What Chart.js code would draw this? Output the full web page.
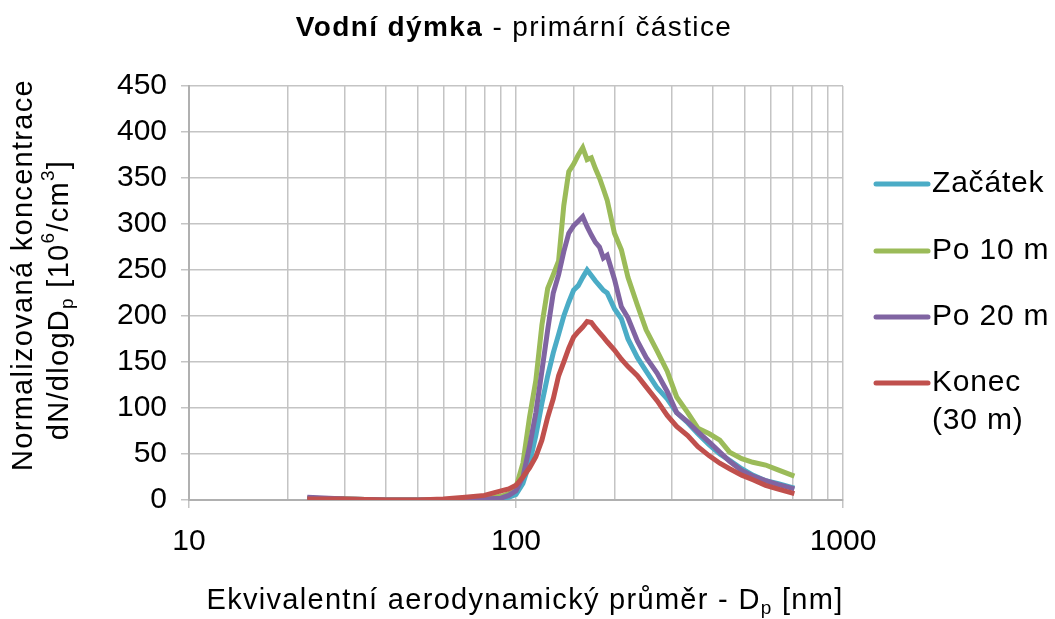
<!DOCTYPE html>
<html>
<head>
<meta charset="utf-8">
<script src="https://cdn.jsdelivr.net/npm/chart.js"></script>
<style>
  html, body { margin: 0; padding: 0; background: #fff; }
  #wrap { width: 1055px; height: 619px; position: relative; }
</style>
</head>
<body>
<div id="wrap"><canvas id="c"></canvas></div>
<script>
// particle diameters [nm]
const diameters = [23, 30, 40, 50, 60, 70, 80, 90, 95, 100, 105, 110, 115, 120, 125, 130, 135, 140,
    145, 150, 155, 160, 165, 170, 175, 180, 185, 190, 200, 210, 220, 235, 250, 270, 290, 310,
    335, 360, 390, 420, 450, 490, 530, 580, 630, 710];

const zacatek = [2, 1, 0, 0, 0, 0, 1, 2, 3, 6, 18, 40, 70, 105, 135, 160, 180, 200,
    215, 228, 233, 242, 250, 244, 238, 233, 228, 225, 208, 197, 175, 155, 140, 122, 110, 95,
    84, 72, 60, 50, 43, 34, 27, 21, 18, 13];
const po10 = [2, 1, 0, 0, 0, 1, 2, 4, 7, 14, 40, 90, 130, 190, 230, 245, 260, 320,
    357, 365, 375, 383, 370, 372, 360, 350, 338, 326, 290, 272, 242, 212, 185, 162, 140, 112,
    95, 78, 72, 65, 52, 45, 41, 38, 33, 26];
const po20 = [3, 1, 0, 0, 0, 0, 1, 2, 5, 10, 25, 58, 95, 140, 185, 225, 245, 270,
    290, 298, 303, 308, 297, 288, 280, 275, 263, 266, 240, 210, 198, 173, 155, 138, 118, 95,
    85, 74, 63, 52, 42, 32, 26, 21, 17, 12];
const konec = [1, 1, 0, 0, 1, 3, 5, 10, 12, 16, 25, 35, 47, 65, 90, 110, 135, 150,
    165, 177, 183, 188, 194, 193, 187, 182, 177, 172, 163, 153, 145, 135, 123, 108, 92, 80,
    70, 58, 48, 40, 34, 27, 22, 16, 12, 7];

const seriesNames = ['Začátek', 'Po 10 m', 'Po 20 m', 'Konec\n(30 m)'];
const seriesValues = [zacatek, po10, po20, konec];
const seriesColors = ['#4BACC6', '#9BBB59', '#8064A2', '#C0504D'];
const xTickLabels = [10, 100, 1000];

const FONT = "'Liberation Sans', Arial, sans-serif";

// draws text made of runs (bold / sub / sup), centred on x
function drawRich(ctx, runs, x, y, size, spacing) {
    ctx.letterSpacing = (spacing || 0) + 'px';
    const fontFor = r => (r.bold ? 'bold ' : '') + Math.round(r.sub || r.sup ? size * 0.65 : size) + 'px ' + FONT;
    let total = 0;
    runs.forEach(r => { ctx.font = fontFor(r); total += ctx.measureText(r.t).width; });
    let cx = x - total / 2;
    runs.forEach(r => {
        ctx.font = fontFor(r);
        let dy = 0;
        if (r.sub) dy = size * 0.28;
        if (r.sup) dy = -size * 0.38;
        ctx.fillText(r.t, cx, y + dy);
        cx += ctx.measureText(r.t).width;
    });
    ctx.letterSpacing = '0px';
}

const textPlugin = {
    id: 'texts',
    afterDraw(chart) {
        const ctx = chart.ctx;
        ctx.save();
        ctx.fillStyle = '#000';
        ctx.textAlign = 'left';
        ctx.textBaseline = 'middle';

        // title
        drawRich(ctx, [{ t: 'Vodní dýmka', bold: true }, { t: ' - primární částice' }], 514, 28, 28, 1.4);

        // x title
        drawRich(ctx, [{ t: 'Ekvivalentní aerodynamický průměr - D' }, { t: 'p', sub: true }, { t: ' [nm]' }], 525, 601, 29, 1.3);

        // y title (two lines, rotated)
        ctx.save();
        ctx.translate(24, 275);
        ctx.rotate(-Math.PI / 2);
        drawRich(ctx, [{ t: 'Normalizovaná koncentrace' }], 0, 0, 29, 1.3);
        ctx.restore();
        ctx.save();
        ctx.translate(60, 300);
        ctx.rotate(-Math.PI / 2);
        drawRich(ctx, [{ t: 'dN/dlogD' }, { t: 'p', sub: true }, { t: ' [10' }, { t: '6', sup: true },
            { t: '/cm' }, { t: '3', sup: true }, { t: ']' }], 0, 0, 29, 1.3);
        ctx.restore();

        // legend
        const rowsY = [184, 251, 317, 383];
        ctx.font = '30px ' + FONT;
        ctx.letterSpacing = '0.8px';
        seriesNames.forEach((name, i) => {
            const y = rowsY[i];
            ctx.strokeStyle = seriesColors[i];
            ctx.lineWidth = 5;
            ctx.lineCap = 'round';
            ctx.beginPath();
            ctx.moveTo(876, y);
            ctx.lineTo(928, y);
            ctx.stroke();
            name.split('\n').forEach((line, j) => {
                ctx.fillText(line, 932, y + j * 38);
            });
        });
        ctx.letterSpacing = '0px';
        ctx.restore();
    }
};

const datasets = seriesNames.map((name, i) => ({
    label: name,
    data: diameters.map((d, k) => ({ x: d, y: seriesValues[i][k] })),
    borderColor: seriesColors[i],
    borderWidth: 5,
    pointRadius: 0,
    tension: 0,
    fill: false,
    order: 3 - i    // red on top
}));

const gridGray = '#c4c4c4';

new Chart(document.getElementById('c'), {
    type: 'line',
    data: { datasets },
    options: {
        responsive: true,
        maintainAspectRatio: false,
        animation: false,
        layout: { padding: { left: 0, top: 86, right: 212, bottom: 0 } },
        plugins: { legend: { display: false }, title: { display: false }, tooltip: { enabled: false } },
        scales: {
            x: {
                type: 'logarithmic',
                min: 10,
                max: 1000,
                afterFit: s => { s.height = 119; },
                grid: {
                    color: gridGray,
                    lineWidth: 1.5,
                    tickLength: 8,
                    tickColor: c => (c.tick && xTickLabels.includes(c.tick.value)) ? gridGray : 'rgba(0,0,0,0)'
                },
                border: { color: '#b0b0b0', width: 2 },
                ticks: {
                    autoSkip: false,
                    maxRotation: 0,
                    padding: 16,
                    color: '#000',
                    font: { family: FONT, size: 30 },
                    callback: v => xTickLabels.includes(v) ? String(v) : ''
                }
            },
            y: {
                min: 0,
                max: 450,
                afterFit: s => { s.width = 189; },
                grid: { color: gridGray, lineWidth: 1.5, tickLength: 8 },
                border: { color: '#b0b0b0', width: 2 },
                ticks: {
                    stepSize: 50,
                    padding: 14,
                    color: '#000',
                    font: { family: FONT, size: 30 }
                }
            }
        }
    },
    plugins: [textPlugin]
});
</script>
</body>
</html>
